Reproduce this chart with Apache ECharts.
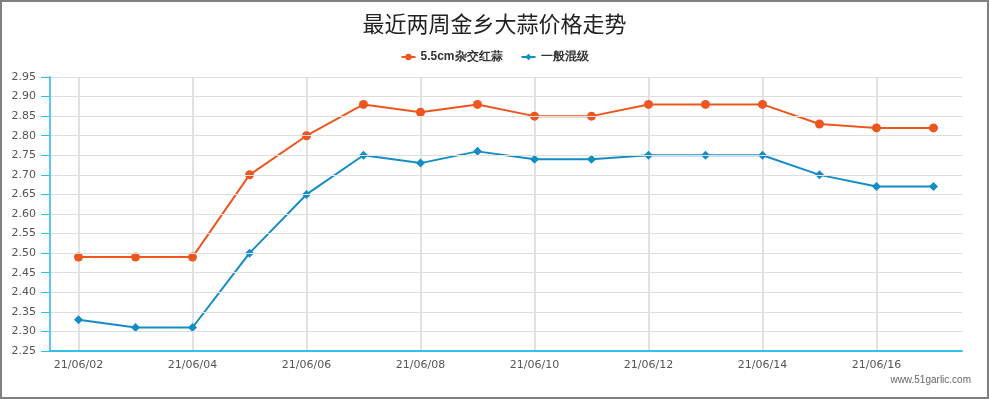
<!DOCTYPE html>
<html>
<head>
<meta charset="utf-8">
<script src="https://cdn.jsdelivr.net/npm/echarts@6/dist/echarts.min.js"></script>
<style>
  html, body { margin: 0; padding: 0; background: #fff; }
  #main { width: 985px; height: 395px; border: 2px solid #808080; }
</style>
</head>
<body>
<div id="main"></div>
<script>
var dates = ['21/06/02', '21/06/03', '21/06/04', '21/06/05', '21/06/06', '21/06/07', '21/06/08', '21/06/09',
  '21/06/10', '21/06/11', '21/06/12', '21/06/13', '21/06/14', '21/06/15', '21/06/16', '21/06/17']
var hybrid55 = [2.49, 2.49, 2.49, 2.70, 2.80, 2.88, 2.86, 2.88, 2.85, 2.85, 2.88, 2.88, 2.88, 2.83, 2.82, 2.82]
var mixed = [2.33, 2.31, 2.31, 2.50, 2.65, 2.75, 2.73, 2.76, 2.74, 2.74, 2.75, 2.75, 2.75, 2.70, 2.67, 2.67]

// vertical grid lines sit on the labelled days, not between categories
var gridDays = dates.filter(function (d, i) { return i % 2 === 0 })

var chart = echarts.init(document.getElementById('main'))
chart.setOption({
  animation: false,
  title: {
    text: '最近两周金乡大蒜价格走势',
    left: 'center',
    top: 6,
    textStyle: {
      fontFamily: 'Noto Sans CJK SC',
      fontSize: 22,
      fontWeight: 'normal',
      color: '#222'
    }
  },
  legend: {
    top: 44,
    left: 'center',
    itemGap: 18,
    itemWidth: 14,
    itemHeight: 8,
    textStyle: { fontSize: 12, color: '#333', fontWeight: 'bold' },
    data: ['5.5cm杂交红蒜', '一般混级']
  },
  graphic: [{
    type: 'text',
    right: 16,
    top: 373,
    style: { text: 'www.51garlic.com', fontSize: 10, fill: '#666' }
  }],
  grid: {
    left: 48,
    right: 25,
    top: 75,
    bottom: 46
  },
  xAxis: {
    type: 'category',
    data: dates,
    boundaryGap: true,
    z: 5,
    axisLine: { lineStyle: { color: '#33bfea', width: 2 } },
    axisTick: { alignWithLabel: true, interval: 1, length: 5, lineStyle: { color: '#5bc8ef', width: 2 } },
    axisLabel: { interval: 1, color: '#555', fontSize: 11, fontFamily: 'DejaVu Sans', margin: 9 },
    splitLine: { show: false }
  },
  yAxis: {
    type: 'value',
    min: 2.25,
    max: 2.95,
    interval: 0.05,
    z: 5,
    axisLine: { show: true, lineStyle: { color: '#5bc8ef', width: 2 } },
    axisTick: { show: true, length: 9, lineStyle: { color: '#33bfea' } },
    axisLabel: {
      color: '#555', fontSize: 11, fontFamily: 'DejaVu Sans', margin: 14,
      formatter: function (v) { return v.toFixed(2) }
    },
    splitLine: { lineStyle: { color: '#dedede' } }
  },
  series: [{
    name: 'grid',
    type: 'line',
    data: [],
    z: 1,
    markLine: {
      z: 1,
      silent: true,
      symbol: 'none',
      label: { show: false },
      lineStyle: { color: '#e2e2e2', width: 2, type: 'solid' },
      data: gridDays.map(function (d) { return { xAxis: d } })
    }
  }, {
    name: '5.5cm杂交红蒜',
    type: 'line',
    data: hybrid55,
    z: 3,
    symbol: 'circle',
    symbolSize: 9,
    itemStyle: { color: '#ee5620' },
    lineStyle: { width: 2 }
  }, {
    name: '一般混级',
    type: 'line',
    data: mixed,
    z: 3,
    symbol: 'diamond',
    symbolSize: 9,
    itemStyle: { color: '#138dc5' },
    lineStyle: { width: 2 }
  }]
})
</script>
</body>
</html>
